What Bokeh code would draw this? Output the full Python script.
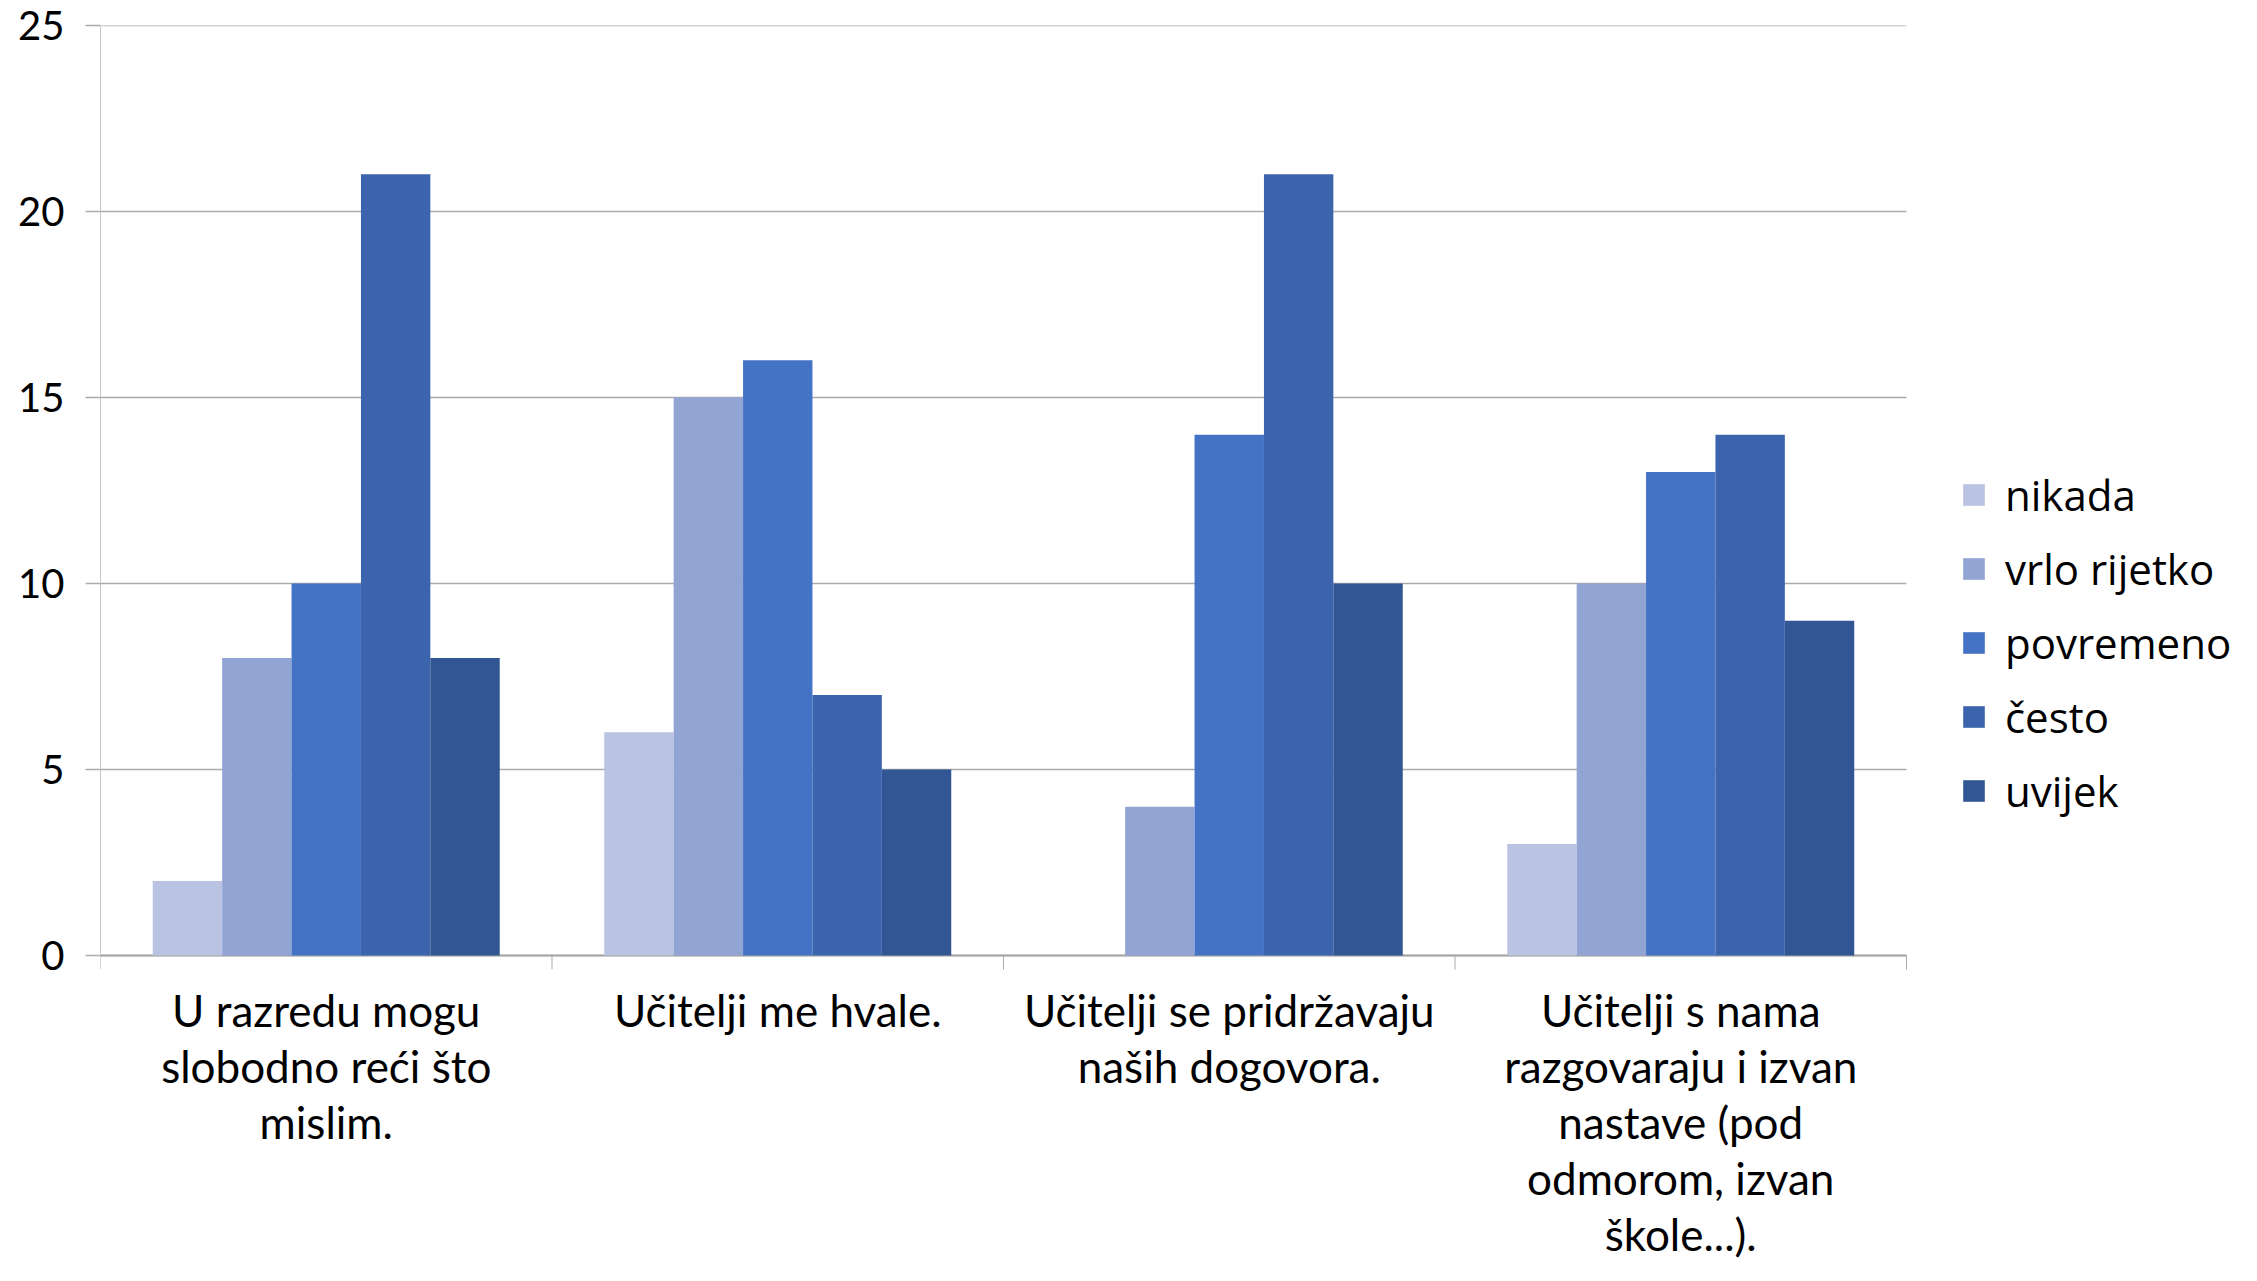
from bokeh.plotting import figure
from bokeh.models import Range1d, FixedTicker, Legend, LegendItem
from bokeh.core.properties import value
from bokeh.embed import file_html
from bokeh.resources import INLINE

categories = [
    "U razredu mogu\nslobodno reći što\nmislim.",
    "Učitelji me hvale.",
    "Učitelji se pridržavaju\nnaših dogovora.",
    "Učitelji s nama\nrazgovaraju i izvan\nnastave (pod\nodmorom, izvan\nškole...).",
]
series = ["nikada", "vrlo rijetko", "povremeno", "često", "uvijek"]
nikada = [2, 6, 0, 3]
vrlo_rijetko = [8, 15, 4, 10]
povremeno = [10, 16, 14, 13]
cesto = [21, 7, 21, 14]
uvijek = [8, 5, 10, 9]
y_ticks = [0, 5, 10, 15, 20, 25]

values = [nikada, vrlo_rijetko, povremeno, cesto, uvijek]
colors = ["#BAC3E1", "#91A4D4", "#4472C4", "#3B64AD", "#325694"]

# ---- layout (canvas pixels) ----
W, H = 2241, 1265
left, top = 100, 25
plot_right = 1906      # right end of category axis
plot_bottom = 955      # baseline (value 0)
n = len(categories)
y_max = 25
x_end = n * (W - left) / (plot_right - left)                 # frame continues under legend
y_start = -(H - plot_bottom) * y_max / (plot_bottom - top)    # frame continues under labels

p = figure(width=W, height=H, x_range=Range1d(0, x_end), y_range=Range1d(y_start, y_max),
           output_backend="svg", toolbar_location=None,
           min_border_left=left, min_border_right=0, min_border_top=top, min_border_bottom=0)
p.outline_line_color = None
p.background_fill_color = "white"
p.xaxis.visible = False
p.xgrid.grid_line_color = None
p.ygrid.grid_line_color = None

# y axis
p.yaxis.bounds = (0, y_max)
p.yaxis.ticker = FixedTicker(ticks=y_ticks)
p.yaxis.major_tick_out = 15
p.yaxis.major_tick_in = 0
p.yaxis.minor_tick_line_color = None
p.yaxis.major_tick_line_color = "#ABABAB"
p.yaxis.major_tick_line_width = 1.5
p.yaxis.axis_line_color = "#C8C8C8"
p.yaxis.axis_line_width = 1
p.yaxis.major_label_text_font = "Lato"
p.yaxis.major_label_text_font_size = "40px"
p.yaxis.major_label_text_color = "black"
p.yaxis.major_label_standoff = 21

# gridlines across the category area
p.segment(x0=[0] * len(y_ticks), x1=[n] * len(y_ticks), y0=y_ticks, y1=y_ticks,
          line_color="#ABABAB", line_width=1.5, level="underlay")

# category axis: baseline, boundary ticks, labels
p.segment(x0=[0], x1=[n], y0=[0], y1=[0], line_color="#A6A6A6", line_width=2)
p.ray(x=list(range(n + 1)), y=[0] * (n + 1), length=14, length_units="screen",
      angle=-90, angle_units="deg", line_color="#ABABAB", line_width=1)
centres = [i + 0.5 for i in range(n)]
p.text(x=centres, y=[0] * n, text=categories, y_offset=28,
       text_align="center", text_baseline="top", text_font=value("Lato"),
       text_font_size="44px", text_line_height=1.08, text_color="black")

# bars
bw = 0.1537
items = []
for j, (name, vals) in enumerate(zip(series, values)):
    xs = [i + 0.5 + (j - 2) * bw for i in range(n)]
    r = p.vbar(x=xs, top=vals, bottom=0, width=bw, fill_color=colors[j], line_color=None)
    items.append(LegendItem(label=name, renderers=[r]))

legend = Legend(items=items, location=(1860, 446), orientation="vertical",
                glyph_width=27, glyph_height=27, label_standoff=18, spacing=17,
                padding=0, margin=0, border_line_color=None, background_fill_alpha=0,
                label_text_font="Open Sans", label_text_font_size="42px",
                label_text_color="black")
p.add_layout(legend)

open("out.html", "w").write(file_html(p, INLINE))
